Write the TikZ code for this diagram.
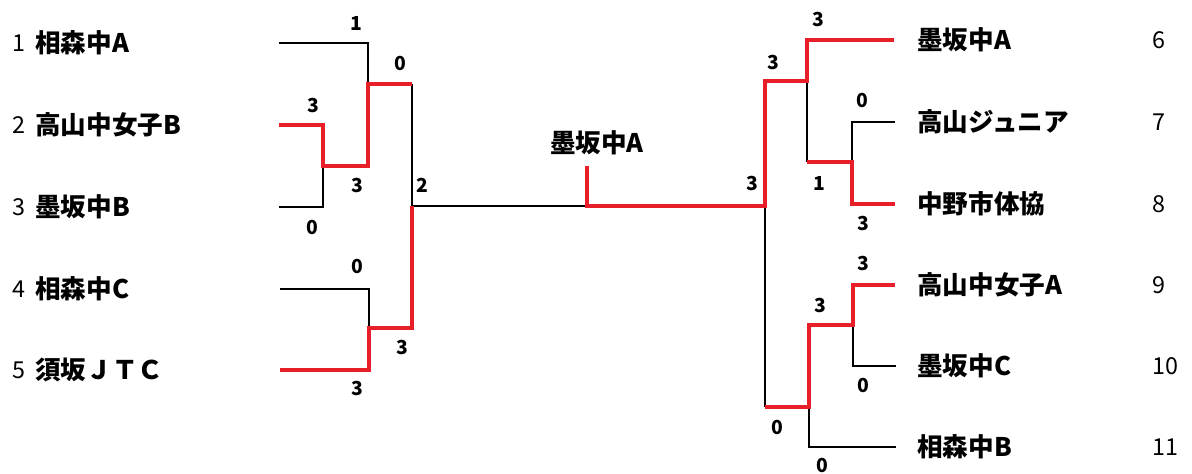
\documentclass[tikz,border=0pt]{standalone}
\usepackage{fontspec}
\setmainfont{Noto Sans CJK JP}
\usetikzlibrary{positioning}
\definecolor{winred}{RGB}{232,30,40}

\begin{document}
\begin{tikzpicture}[x=0.75pt,y=-0.75pt,
  line/.style={line width=1pt},
  win/.style={draw=winred,line width=3.6pt},
  team/.style={anchor=west,inner sep=0pt,font=\fontsize{19.2}{21}\selectfont\bfseries},
  seed/.style={anchor=west,inner sep=0pt,font=\fontsize{17.5}{20}\selectfont},
  score/.style={inner sep=0pt,font=\fontsize{14.5}{17}\selectfont\bfseries}]
\useasboundingbox (0,0) rectangle (1192,474);

% teams, left
\foreach \n/\t/\y in {1/相森中A/43,2/高山中女子B/125,3/墨坂中B/207,4/相森中C/289,5/須坂ＪＴＣ/370}
{
\node[seed] (k\n) at (12,\y) {\n};
\node[team] (n\n) at (35,\y) {\t};
}
% teams, right
\foreach \n/\t/\y in {6/墨坂中A/40,7/高山ジュニア/122,8/中野市体協/204,9/高山中女子A/285,10/墨坂中C/366,11/相森中B/447}
{
\node[team] (n\n) at (917,\y) {\t};
\node[seed] (k\n) at (1152,\y) {\n};
}
\node[team,anchor=center] (champ) at (597,143) {墨坂中A};

% bracket ends
\coordinate (e1) at (279,43);
\coordinate (e2) at (279,125);
\coordinate (e3) at (279,207);
\coordinate (e4) at (280,289);
\coordinate (e5) at (280,370);
\coordinate (e6) at (894,40);
\coordinate (e7) at (895,122);
\coordinate (e8) at (895,204);
\coordinate (e9) at (895,285);
\coordinate (e10) at (896,366);
\coordinate (e11) at (896,447);
% joins
\coordinate (a) at (323,166);
\coordinate (b) at (368,84);
\coordinate (c) at (369,328);
\coordinate (d) at (412,206);
\coordinate (top) at (587,166);
\coordinate (m) at (587,206);
\coordinate (r) at (765,206);
\coordinate (f) at (852,162);
\coordinate (g) at (807,81);
\coordinate (h) at (853,325);
\coordinate (k) at (809,407);

% losers
\draw[line] (e1) -| (b);
\draw[line] (e3) -| (a);
\draw[line] (e4) -| (c);
\draw[line] (b -| d) -- (d) -- (m);
\draw[line] (e7) -| (f);
\draw[line] (g) -- (g |- f);
\draw[line] (e10) -| (h);
\draw[line] (e11) -| (k);
\draw[line] (r) -- (r |- k);

% winners
\draw[win] (e2) -| (a) -- (a -| b) -- (b) -- (b -| d);
\draw[win] (e5) -| (c) -- (c -| d) -- (d);
\draw[win] (e8) -| (f) -- (f -| g);
\draw[win] (e9) -| (h) -- (h -| k) -- (k) -- (k -| r);
\draw[win] (top) -- (m) -- (r) -- (r |- g) -- (g) -- (g |- e6) -- (e6);

% scores
\foreach \x/\y/\s [count=\i] in {356/23/1,400/63/0,313/105/3,357/185/3,422/185/2,312/227/0,357/266/0,402/347/3,357/388/3,818/19/3,773/62/3,862/100/0,752/183/3,819/183/1,863/223/3,863/263/3,820/305/3,863/385/0,777/427/0,822/465/0}
\node[score] (s\i) at (\x,\y) {\s};
\end{tikzpicture}
\end{document}
